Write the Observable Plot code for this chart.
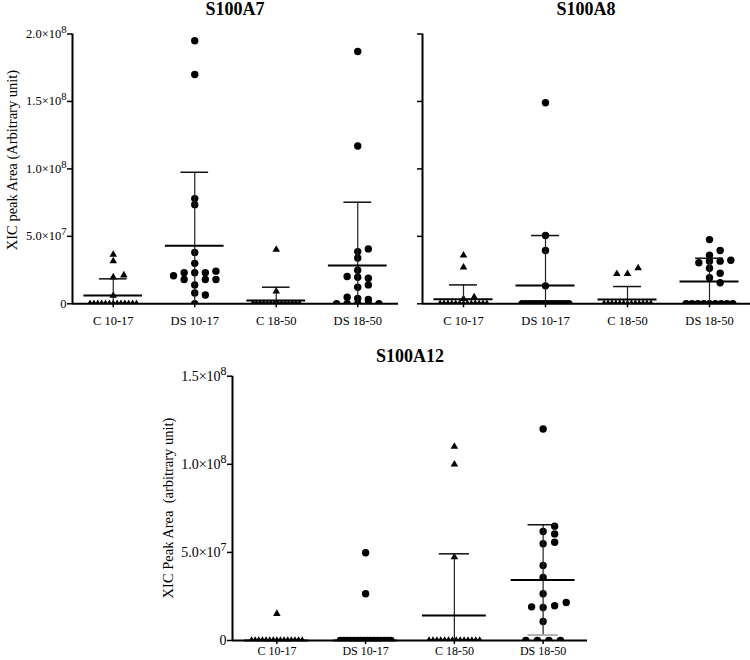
<!DOCTYPE html>
<html><head><meta charset="utf-8">
<script src="https://cdn.jsdelivr.net/npm/d3@7"></script>
<script src="https://cdn.jsdelivr.net/npm/@observablehq/plot@0.6"></script>
<style>
body{margin:0;background:#fff;}
#chart{position:relative;width:750px;height:660px;overflow:hidden;font-family:"Liberation Serif","Times New Roman",serif;color:#000;background:#fff;}
.title{position:absolute;font-weight:bold;font-size:18px;line-height:18px;transform:translateX(-50%);white-space:nowrap;}
.ylab{position:absolute;font-size:14.5px;line-height:16px;white-space:pre;transform:translate(-50%,-50%) rotate(-90deg);}
.panel{position:absolute;}
</style></head><body><div id="chart"></div>
<script>
// ---------- data ----------
const groups = ["C 10-17", "DS 10-17", "C 18-50", "DS 18-50"];
const shapes = ["triangle", "circle", "triangle", "circle"];

// S100A7
const a7C1017  = [3.16e7, 3.65e7, 1.97e7, 2.12e7, 0.61e7, 0,0,0,0,0,0,0,0,0,0,0,0,0];
const a7DS1017 = [1.95e8, 1.70e8, 7.35e7, 7.8e7, 3.8e7, 3.0e7, 1.4e7, 2.3e7, 2.3e7, 2.3e7, 2.42e7, 1.8e7, 1.8e7, 1.8e7, 2.08e7, 0.8e7, 0.65e7, 0];
const a7C1850  = [4.02e7, 0.93e7, 0,0,0,0,0,0,0,0,0,0,0,0,0,0];
const a7DS1850 = [1.87e8, 1.17e8, 3.4e7, 3.87e7, 4.07e7, 2.49e7, 1.97e7, 1.9e7, 2.02e7, 1.23e7, 1.4e7, 0.39e7, 0.32e7, 0.49e7, 0,0,0,0,0];
const a7Mean = [0.61e7, 4.3e7, 0.24e7, 2.84e7];
const a7SD   = [1.24e7, 5.45e7, 0.99e7, 4.69e7];

// S100A8
const a8C1017  = [3.6e7, 2.71e7, 0.37e7, 0.49e7, 0,0,0,0,0,0,0,0,0,0,0,0,0];
const a8DS1017 = [1.49e8, 5.06e7, 3.95e7, 1.33e7, 0,0,0,0,0,0,0,0,0,0,0,0,0,0];
const a8C1850  = [2.22e7, 2.64e7, 2.22e7, 0,0,0,0,0,0,0,0,0,0,0,0,0];
const a8DS1850 = [4.76e7, 3.6e7, 3.95e7, 3.16e7, 3.16e7, 3.04e7, 3.23e7, 2.64e7, 2.27e7, 1.93e7, 1.56e7, 0,0,0,0,0,0,0,0,0];
const a8Mean = [0.34e7, 1.36e7, 0.32e7, 1.65e7];
const a8SD   = [1.06e7, 3.7e7, 0.96e7, 1.73e7];

// S100A12
const a12C1017  = [1.52e7, 0,0,0,0,0,0,0,0,0,0,0,0,0,0,0];
const a12DS1017 = [4.98e7, 2.65e7, 0,0,0,0,0,0,0,0,0,0,0,0,0,0,0,0];
const a12C1850  = [1.1e8, 1.0e8, 4.73e7, 0,0,0,0,0,0,0,0,0,0,0,0,0,0];
const a12DS1850 = [1.2e8, 6.19e7, 6.49e7, 6.05e7, 5.49e7, 5.58e7, 4.26e7, 3.58e7, 2.65e7, 1.87e7, 1.97e7, 1.91e7, 2.16e7, 1.08e7, 0,0,0,0];
const a12Mean = [0, 0, 1.42e7, 3.44e7];
const a12SD   = [0, 0, 3.5e7, 3.13e7];

// axis ticks
const yTicksA = [0, 5e7, 1e8, 1.5e8, 2e8];
const yTickLabelsA = ["0", "5.0×10^7", "1.0×10^8", "1.5×10^8", "2.0×10^8"];
const yTicksB = [0, 5e7, 1e8, 1.5e8];
const yTickLabelsB = ["0", "5.0×10^7", "1.0×10^8", "1.5×10^8"];

const titles = ["S100A7", "S100A8", "S100A12"];
const yTitles = ["XIC peak Area (Arbitrary unit)", "XIC Peak Area  (arbitrary unit)"];

// ---------- drawing ----------
function panel(cfg) {
  const {values, means, sds, ymax, yTicks, yLabels, width, height, ml, mr, mt, mb, yFont, xFont, xPad} = cfg;
  const fw = width - ml - mr, fh = height - mt - mb;
  const band = fw / groups.length, ky = fh / ymax;
  const step = 0.13 * band, dmin = 5.8;
  const pts = [];
  values.forEach((vals, g) => {
    const placed = [];
    vals.filter(v => v > 0).forEach(v => {
      const py = v * ky;
      for (let k = 0; k < 30; k++) {
        const j = k === 0 ? 0 : (k % 2 ? (k + 1) / 2 : -k / 2);
        const ox = j * step;
        if (!placed.some(p => Math.abs(p.ox - ox) < dmin && Math.abs(p.py - py) < dmin)) {
          placed.push({ox, py});
          pts.push({g, v, x: g + ox / band, shape: shapes[g]});
          break;
        }
      }
    });
    const nz = vals.filter(v => v === 0).length;
    const zs = nz > 1 ? Math.min(step, 0.57 * band / (nz - 1)) : 0;
    for (let i = 0; i < nz; i++) pts.push({g, v: 0, x: g + ((i - (nz - 1) / 2) * zs) / band, shape: shapes[g]});
  });
  const stats = groups.map((name, g) => ({g, mean: means[g], sd: sds[g]}));
  const labelMap = new Map(yTicks.map((t, i) => [t, yLabels ? yLabels[i] : ""]));
  const svg = Plot.plot({
    width, height, marginLeft: ml, marginRight: mr, marginTop: mt, marginBottom: mb,
    style: {background: "transparent", overflow: "visible", fontFamily: "'Liberation Serif','Times New Roman',serif", fontSize: "12px", color: "black"},
    x: {type: "linear", domain: [-0.5, groups.length - 0.5]},
    y: {type: "linear", domain: [0, ymax]},
    marks: [
      Plot.dot(pts.filter(d => d.shape === "triangle"), {x: "x", y: "v", symbol: "triangle", r: 2.8, fill: "black", clip: "frame"}),
      Plot.dot(pts.filter(d => d.shape === "circle"), {x: "x", y: "v", r: 3.7, fill: "black", clip: "frame"}),
      Plot.ruleX(stats, {x: "g", y1: d => Math.max(0, d.mean - d.sd), y2: d => d.mean + d.sd, stroke: "#222", strokeWidth: 1.2}),
      Plot.ruleY(stats, {y: d => d.mean + d.sd, x1: d => d.g - 0.17, x2: d => d.g + 0.17, stroke: "#111", strokeWidth: 1.5}),
      Plot.ruleY(stats.filter(d => d.mean - d.sd > 0), {y: d => d.mean - d.sd, x1: d => d.g - 0.17, x2: d => d.g + 0.17, stroke: "#999", strokeWidth: 1.5}),
      Plot.ruleY(stats, {y: "mean", x1: d => d.g - 0.36, x2: d => d.g + 0.36, stroke: "black", strokeWidth: 2}),
      Plot.axisY({ticks: yTicks, tickFormat: d => labelMap.get(d), tickSize: 5, tickPadding: 1, strokeWidth: 1.5, fontSize: yFont, label: null}),
      Plot.axisX({ticks: groups.map((n, i) => i), tickFormat: d => groups[d], tickSize: 4, tickPadding: xPad, strokeWidth: 1.5, fontSize: xFont, label: null}),
      Plot.ruleY([0], {stroke: "black", strokeWidth: 2}),
      Plot.ruleX([-0.5], {y1: 0, y2: ymax, stroke: "black", strokeWidth: 2})
    ]
  });
  // superscript exponents in tick labels
  svg.querySelectorAll('g[aria-label="y-axis tick label"] text').forEach(t => {
    const s = t.textContent;
    if (s.includes("^")) {
      const [a, b] = s.split("^");
      t.textContent = a;
      const ts = document.createElementNS("http://www.w3.org/2000/svg", "tspan");
      ts.setAttribute("dy", "-0.5em");
      ts.setAttribute("font-size", "0.85em");
      ts.textContent = b;
      t.appendChild(ts);
    }
  });
  svg.classList.add("panel");
  svg.style.left = cfg.left + "px";
  svg.style.top = cfg.top + "px";
  svg.style.position = "absolute";
  return svg;
}

const chart = document.getElementById("chart");
chart.appendChild(panel({values: [a7C1017, a7DS1017, a7C1850, a7DS1850], means: a7Mean, sds: a7SD, ymax: 2e8,
  yTicks: yTicksA, yLabels: yTickLabelsA, width: 400, height: 330, ml: 72, mr: 2, mt: 33.5, mb: 26.7,
  yFont: 12.5, xFont: 12.5, xPad: 8, left: 0, top: 0}));
chart.appendChild(panel({values: [a8C1017, a8DS1017, a8C1850, a8DS1850], means: a8Mean, sds: a8SD, ymax: 2e8,
  yTicks: yTicksA, yLabels: null, width: 350, height: 330, ml: 22, mr: 0, mt: 33.5, mb: 26.7,
  yFont: 12.5, xFont: 12.5, xPad: 8, left: 400, top: 0}));
chart.appendChild(panel({values: [a12C1017, a12DS1017, a12C1850, a12DS1850], means: a12Mean, sds: a12SD, ymax: 1.5e8,
  yTicks: yTicksB, yLabels: yTickLabelsB, width: 440, height: 330, ml: 72, mr: 13, mt: 45.7, mb: 20,
  yFont: 14, xFont: 12, xPad: 2, left: 160, top: 330}));

function addText(cls, text, x, y) {
  const d = document.createElement("div");
  d.className = cls; d.textContent = text;
  d.style.left = x + "px"; d.style.top = y + "px";
  chart.appendChild(d);
}
addText("title", titles[0], 235, 0);
addText("title", titles[1], 586, 0);
addText("title", titles[2], 410, 347);
addText("ylab", yTitles[0], 12, 160);
addText("ylab", yTitles[1], 168, 508);
</script></body></html>
